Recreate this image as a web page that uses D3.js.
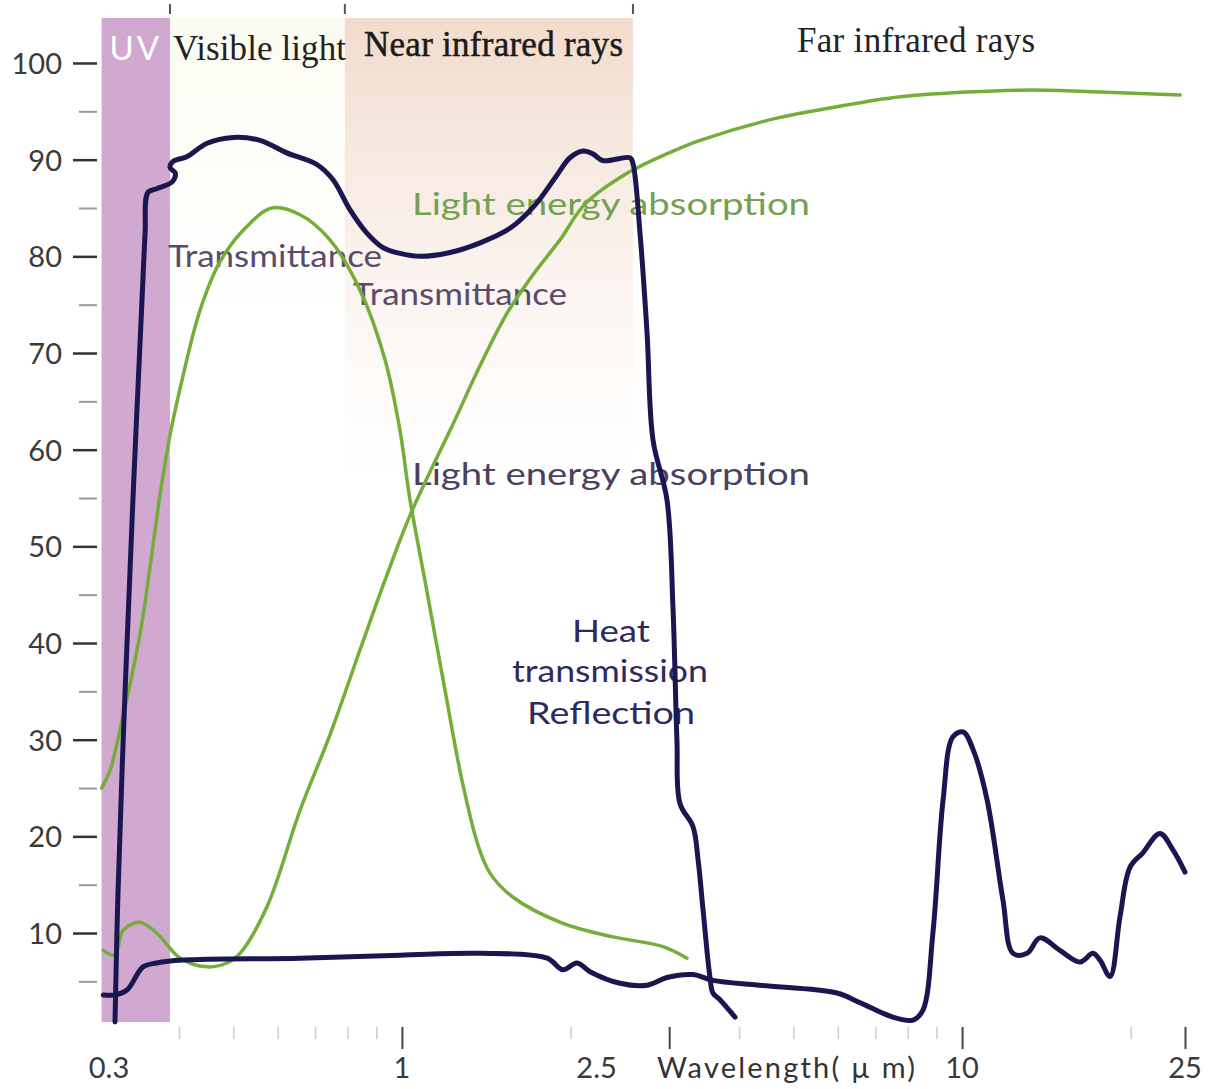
<!DOCTYPE html>
<html><head><meta charset="utf-8">
<script src="https://cdn.jsdelivr.net/npm/d3@7"></script>
<style>html,body{margin:0;padding:0;background:#fff;}svg{display:block;}</style>
</head><body>
<script>
// ---------- DATA ----------
// wavelength (µm), value (%)
const bands = [
  {name:"UV",             from:0.291, to:0.3855},
  {name:"Visible light",  from:0.3855, to:0.791},
  {name:"Near infrared rays", from:0.791, to:2.585},
  {name:"Far infrared rays",  from:2.585, to:28}
];
const yMajorTicks = [10,20,30,40,50,60,70,80,90,100];
const yMinorTicks = [5,15,25,35,45,55,65,75,85,95];
const xMajorTicks = [1,3,10,25];
const xMinorTicks = [0.4,0.5,0.6,0.7,0.8,0.9,2,4,5,6,7,8,9,20];
const xTickLabels = [{v:0.3,t:"0.3"},{v:1,t:"1"},{v:2.5,t:"2.5"},{v:10,t:"10"},{v:25,t:"25"}];

// navy: transmittance of visible / near IR, falls off after ~3 µm
const transmittanceHeat = [
  [0.3075,0.8],[0.311,13.4],[0.320,34.1],[0.331,54.8],[0.3436,75.5],[0.348,82.4],[0.352,86.6],
  [0.365,87.0],[0.389,87.7],[0.394,88.6],[0.3855,89.2],[0.390,89.8],[0.413,90.3],[0.449,91.7],
  [0.4995,92.3],[0.558,92.0],[0.623,90.7],[0.705,89.5],[0.754,87.9],[0.808,84.8],[0.866,82.4],
  [0.925,80.9],[0.992,80.3],[1.078,80.0],[1.219,80.4],[1.379,81.4],[1.559,82.9],[1.728,85.3],
  [1.876,88.1],[1.995,90.2],[2.105,90.9],[2.193,90.6],[2.285,89.9],[2.553,90.2],[2.585,89.6],
  [2.661,82.4],[2.739,72.1],[2.807,61.0],[2.973,54.8],[3.047,43.7],[3.097,30.0],[3.136,23.4],
  [3.309,21.0],[3.378,17.6],[3.448,12.4],[3.548,5.4],[3.591,3.8],[3.696,3.1],[3.933,1.3]
];
// navy: lower reflection / far-infrared curve
const reflectionCurve = [
  [0.293,3.6],[0.3075,3.6],[0.323,4.1],[0.345,6.5],[0.365,6.9],[0.407,7.2],[0.658,7.4],
  [0.992,7.7],[1.379,7.9],[1.816,7.4],[1.939,6.2],[2.054,6.9],[2.167,6.0],[2.451,4.8],
  [2.739,4.6],[2.973,5.4],[3.309,5.7],[3.591,5.1],[4.358,4.6],[5.98,3.8],[6.57,2.8],
  [7.52,1.3],[8.17,1.0],[8.51,2.0],[8.87,10.0],[9.25,23.8],[9.63,30.3],[10.04,30.8],
  [10.46,29.0],[11.08,23.8],[11.83,13.4],[12.33,7.9],[13.06,7.9],[13.77,9.5],[14.95,8.2],
  [16.24,7.0],[17.12,7.9],[17.63,7.2],[18.37,5.5],[19.14,11.7],[19.94,16.8],[21.03,18.3],
  [22.55,20.3],[23.79,18.6],[25,16.3]
];
// green: bell-shaped transmittance
const greenTransmittance = [
  [0.291,25.0],[0.3012,26.8],[0.3165,32.0],[0.341,41.0],[0.355,47.8],[0.370,55.3],[0.3855,61.5],
  [0.405,67.2],[0.436,74.4],[0.473,79.4],[0.525,82.9],[0.586,85.0],[0.658,84.3],[0.744,81.7],
  [0.842,76.5],[0.933,69.3],[0.992,62.0],[1.034,54.8],[1.099,46.5],[1.194,35.1],[1.280,25.8],
  [1.367,19.1],[1.436,16.2],[1.579,13.7],[1.939,11.0],[2.382,9.6],[2.924,8.6],[3.228,7.4]
];
// green: rising light energy absorption
const greenAbsorption = [
  [0.293,8.2],[0.3075,7.7],[0.318,10.3],[0.341,11.1],[0.365,10.0],[0.402,7.4],[0.449,6.5],
  [0.487,6.9],[0.514,7.9],[0.574,12.7],[0.658,22.7],[0.744,30.5],[0.842,39.3],[0.933,46.5],
  [1.034,53.2],[1.244,63.1],[1.379,68.7],[1.540,74.1],[1.714,78.1],[1.915,81.7],[2.122,85.4],
  [2.523,88.6],[3.136,91.2],[3.405,92.0],[4.67,94.3],[5.88,95.4],[7.75,96.5],[10.2,97.0],
  [13.38,97.2],[17.63,97.0],[24.5,96.7]
];

// ---------- LAYOUT ----------
const W = 1217, H = 1089;
const x = d3.scaleLog().domain([0.3, 25]).range([109, 1185]);
const y = d3.scaleLinear().domain([0, 100]).range([1029.7, 63]);
const bandTop = 18, bandBottom = 1022;

const svg = d3.select("body").append("svg").attr("width", W).attr("height", H);
const defs = svg.append("defs");
const gNir = defs.append("linearGradient").attr("id","nir").attr("x1",0).attr("x2",0).attr("y1",0).attr("y2",1);
gNir.append("stop").attr("offset","0").attr("stop-color","rgb(238,210,192)").attr("stop-opacity",0.8);
gNir.append("stop").attr("offset","0.35").attr("stop-color","rgb(240,216,200)").attr("stop-opacity",0.5);
gNir.append("stop").attr("offset","1").attr("stop-color","rgb(245,228,218)").attr("stop-opacity",0);
const gVis = defs.append("linearGradient").attr("id","vis").attr("x1",0).attr("x2",0).attr("y1",0).attr("y2",1);
gVis.append("stop").attr("offset","0").attr("stop-color","rgb(246,245,225)").attr("stop-opacity",0.45);
gVis.append("stop").attr("offset","1").attr("stop-color","rgb(246,245,225)").attr("stop-opacity",0);

// bands
svg.append("rect").attr("x", x(bands[1].from)).attr("y", bandTop)
  .attr("width", x(bands[1].to)-x(bands[1].from)).attr("height", 300).attr("fill","url(#vis)");
svg.append("rect").attr("x", x(bands[2].from)).attr("y", bandTop)
  .attr("width", x(bands[2].to)-x(bands[2].from)).attr("height", 460).attr("fill","url(#nir)");
svg.append("rect").attr("x", x(bands[0].from)).attr("y", bandTop)
  .attr("width", x(bands[0].to)-x(bands[0].from)).attr("height", bandBottom-bandTop).attr("fill","#d0a8d0");

// top boundary ticks
svg.selectAll("line.topTick").data(bands.slice(0,3)).enter().append("line")
  .attr("x1", d=>x(d.to)).attr("x2", d=>x(d.to)).attr("y1", 4).attr("y2", 14)
  .attr("stroke","#555").attr("stroke-width",2);

// band titles
svg.append("text").attr("x", x(bands[0].from)+ (x(bands[0].to)-x(bands[0].from))/2).attr("y", 60)
  .attr("text-anchor","middle").attr("fill","#fff").attr("font-family","Lato, 'Noto Sans', sans-serif")
  .attr("font-size",33).attr("letter-spacing",3).text(bands[0].name);
const serif = "'Liberation Serif','Times New Roman',serif";
svg.append("text").attr("x",173).attr("y",60).attr("font-family",serif).attr("font-size",35)
  .attr("fill","#222").attr("textLength",173).text(bands[1].name);
svg.append("text").attr("x",364).attr("y",56).attr("font-family",serif).attr("font-size",35)
  .attr("fill","#1e1a18").attr("stroke","#1e1a18").attr("stroke-width",0.5).attr("textLength",259).text(bands[2].name);
svg.append("text").attr("x",797).attr("y",52).attr("font-family",serif).attr("font-size",35)
  .attr("fill","#222").attr("textLength",238).text(bands[3].name);

// Y axis
const sans = "Lato, 'Noto Sans', sans-serif";
const yMaj = svg.append("g").attr("transform","translate(97,0)")
  .call(d3.axisLeft(y).tickValues(yMajorTicks).tickSize(24).tickPadding(11).tickFormat(d3.format("d")));
yMaj.select(".domain").remove();
yMaj.selectAll("line").attr("stroke","#333").attr("stroke-width",2.5);
yMaj.selectAll("text").attr("font-family",sans).attr("font-size",29).attr("fill","#3a3a3a").attr("dy","0.36em");
const yMin = svg.append("g").attr("transform","translate(97,0)")
  .call(d3.axisLeft(y).tickValues(yMinorTicks).tickSize(18).tickFormat(""));
yMin.select(".domain").remove();
yMin.selectAll("line").attr("stroke","#999").attr("stroke-width",2);

// X axis
const xMaj = svg.append("g").attr("transform","translate(0,1027)")
  .call(d3.axisBottom(x).tickValues(xMajorTicks).tickSize(22).tickFormat(""));
xMaj.select(".domain").remove();
xMaj.selectAll("line").attr("stroke","#444").attr("stroke-width",2);
const xMin = svg.append("g").attr("transform","translate(0,1027)")
  .call(d3.axisBottom(x).tickValues(xMinorTicks).tickSize(12).tickFormat(""));
xMin.select(".domain").remove();
xMin.selectAll("line").attr("stroke","#ccc").attr("stroke-width",1.5);
svg.selectAll("text.xl").data(xTickLabels).enter().append("text")
  .attr("x", d=> d.v===2.5 ? x(d.v)-8 : x(d.v)).attr("y",1078)
  .attr("text-anchor", d=> d.v===2.5 ? "end" : "middle")
  .attr("font-family",sans).attr("font-size",29).attr("fill","#3a3a3a").text(d=>d.t);
svg.append("text").attr("x",657).attr("y",1078).attr("font-family",sans).attr("font-size",29)
  .attr("fill","#333").attr("textLength",258).text("Wavelength( µ m)");

// curve labels (drawn beneath the lines)
function lbl(t, x0, y0, len, color){
  svg.append("text").attr("x",x0).attr("y",y0).attr("font-family",sans).attr("font-size",30)
    .attr("fill",color).attr("textLength",len).attr("lengthAdjust","spacingAndGlyphs").text(t);
}
lbl("Transmittance",168,267,214,"#5c4a6c");
lbl("Transmittance",353,305,214,"#5c4a6c");
lbl("Light energy absorption",412,215,398,"#74a052");
lbl("Light energy absorption",412,485,398,"#4a4060");
lbl("Heat",572,642,78,"#2e2a5e");
lbl("transmission",512,682,196,"#2e2a5e");
lbl("Reflection",527,724,168,"#2e2a5e");

// lines
const line = d3.line().x(d=>x(d[0])).y(d=>y(d[1])).curve(d3.curveCatmullRom.alpha(0.5));
svg.append("path").datum(greenTransmittance).attr("d",line).attr("fill","none")
  .attr("stroke","#74ae38").attr("stroke-width",3.5).attr("stroke-linecap","round");
svg.append("path").datum(greenAbsorption).attr("d",line).attr("fill","none")
  .attr("stroke","#74ae38").attr("stroke-width",3.5).attr("stroke-linecap","round");
svg.append("path").datum(reflectionCurve).attr("d",line).attr("fill","none")
  .attr("stroke","#1b1650").attr("stroke-width",5).attr("stroke-linejoin","round").attr("stroke-linecap","round");
svg.append("path").datum(transmittanceHeat).attr("d",line).attr("fill","none")
  .attr("stroke","#1b1650").attr("stroke-width",5).attr("stroke-linejoin","round").attr("stroke-linecap","round");
</script>
</body></html>
